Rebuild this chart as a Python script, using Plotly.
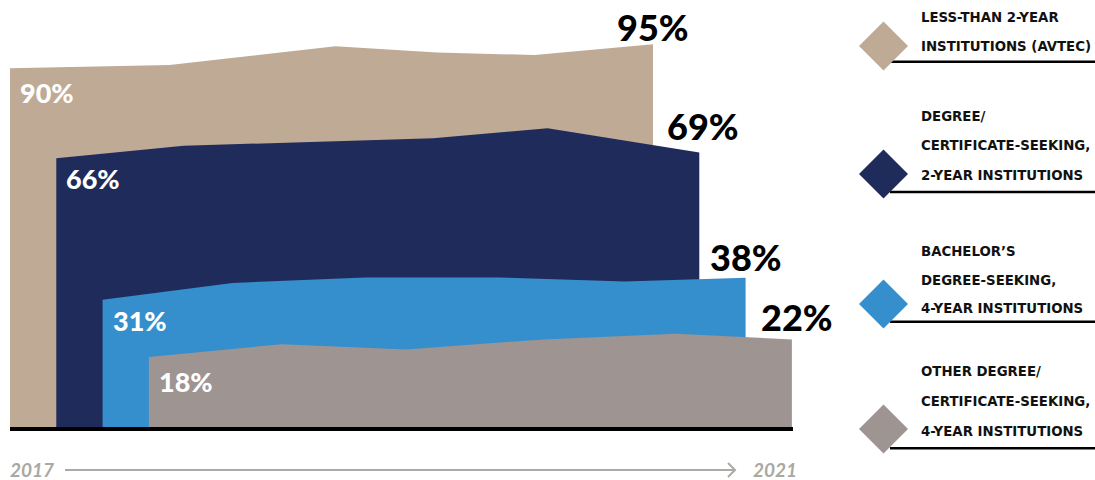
import plotly.graph_objects as go

# ---------------- data ----------------
series_names = [
    "Less-than 2-year institutions (AVTEC)",
    "Degree/certificate-seeking, 2-year institutions",
    "Bachelor's degree-seeking, 4-year institutions",
    "Other degree/certificate-seeking, 4-year institutions",
]
legend_lines = [
    ["LESS-THAN 2-YEAR", "INSTITUTIONS (AVTEC)"],
    ["DEGREE/", "CERTIFICATE-SEEKING,", "2-YEAR INSTITUTIONS"],
    ["BACHELOR\u2019S", "DEGREE-SEEKING,", "4-YEAR INSTITUTIONS"],
    ["OTHER DEGREE/", "CERTIFICATE-SEEKING,", "4-YEAR INSTITUTIONS"],
]
# period position (0 = 2017 ... 5 = 2021) and percentage
s1_x = [0, 1.24, 2.53, 3.32, 4.08, 5]
s1_y = [89.7, 90.5, 95.2, 93.6, 93.0, 95.7]
s2_x = [0, 0.99, 2.93, 3.82, 5]
s2_y = [67.2, 70.3, 72.2, 74.7, 68.6]
s3_x = [0, 1.01, 2.04, 3.08, 4.06, 5]
s3_y = [31.8, 36.0, 37.4, 37.4, 36.4, 37.3]
s4_x = [0, 1.03, 2.0, 3.07, 4.1, 5]
s4_y = [17.5, 20.7, 19.4, 21.9, 23.3, 21.9]
start_labels = ["90%", "66%", "31%", "18%"]
end_labels = ["95%", "69%", "38%", "22%"]
year_start = "2017"
year_end = "2021"

# ---------------- style ----------------
W, H = 1095, 480
colors = ["#BFAA96", "#1F2C5B", "#368FCD", "#9E9492"]
STAGGER = 0.36
xs = [s1_x, s2_x, s3_x, s4_x]
ys = [s1_y, s2_y, s3_y, s4_y]
NUM_FONT = "Lato"


def px(x):
    return x / W


def py(y):
    return 1 - y / H


fig = go.Figure()
for i in range(4):
    fig.add_trace(go.Scatter(
        x=[v + i * STAGGER for v in xs[i]], y=ys[i],
        mode="lines", line=dict(width=0, color=colors[i]),
        fill="tozeroy", fillcolor=colors[i], name=series_names[i],
        hoverinfo="skip", showlegend=False,
    ))

annotations = []
shapes = []
end_yshift = [17, 27, 21, 22]
end_xshift = [0, 4, 0, 5]
start_yshift = [-24, -20, -21, -24]
for i in range(4):
    annotations.append(dict(
        x=xs[i][0] + i * STAGGER, y=ys[i][0], xref="x", yref="y",
        text=start_labels[i], showarrow=False, xanchor="left", yanchor="middle",
        xshift=8, yshift=start_yshift[i],
        font=dict(family=NUM_FONT, size=27, color="white", weight=900),
    ))
    annotations.append(dict(
        x=xs[i][-1] + i * STAGGER, y=ys[i][-1], xref="x", yref="y",
        text=end_labels[i], showarrow=False, xanchor="center", yanchor="middle",
        xshift=end_xshift[i], yshift=end_yshift[i],
        font=dict(family=NUM_FONT, size=36, color="black", weight=900),
    ))

# baseline
shapes.append(dict(type="line", xref="paper", yref="paper",
                   x0=px(10), x1=px(793), y0=py(429), y1=py(429),
                   line=dict(color="black", width=4), layer="above"))
# time arrow
shapes.append(dict(type="line", xref="paper", yref="paper",
                   x0=px(65), x1=px(735), y0=py(470), y1=py(470),
                   line=dict(color="#ABABA6", width=2)))
shapes.append(dict(type="path", xref="paper", yref="paper",
                   path=f"M {px(728)},{py(463)} L {px(735)},{py(470)} L {px(728)},{py(477)}",
                   line=dict(color="#ABABA6", width=2)))
annotations.append(dict(x=px(8), y=py(469), xref="paper", yref="paper", text=year_start,
                        showarrow=False, xanchor="left", yanchor="middle",
                        font=dict(family="Lato", size=19, color="#A9A9A4", style="italic", weight=700)))
annotations.append(dict(x=px(751), y=py(469), xref="paper", yref="paper", text=year_end,
                        showarrow=False, xanchor="left", yanchor="middle",
                        font=dict(family="Lato", size=19, color="#A9A9A4", style="italic", weight=700)))

# legend
diamond_cy = [46, 174, 304, 429]
underline_y = [61.7, 192, 321.7, 448.3]
text_y = [[16.7, 45.8], [115.5, 145, 174.5], [250, 279.5, 307.5], [370.5, 400.5, 430.5]]
cx, r = 883.5, 24.5
for i in range(4):
    shapes.append(dict(type="line", xref="paper", yref="paper",
                       x0=px(890), x1=px(1095), y0=py(underline_y[i]), y1=py(underline_y[i]),
                       line=dict(color="black", width=2.5)))
    cy = diamond_cy[i]
    shapes.append(dict(type="path", xref="paper", yref="paper",
                       path=(f"M {px(cx - r)},{py(cy)} L {px(cx)},{py(cy - r)} "
                             f"L {px(cx + r)},{py(cy)} L {px(cx)},{py(cy + r)} Z"),
                       fillcolor=colors[i], line=dict(width=0)))
    for line_text, ty in zip(legend_lines[i], text_y[i]):
        annotations.append(dict(x=px(919), y=py(ty), xref="paper", yref="paper",
                                text=line_text, showarrow=False, xanchor="left", yanchor="middle",
                                font=dict(family="DejaVu Sans Condensed, DejaVu Sans, sans-serif",
                                          size=14.8, color="#111111", weight=700)))

fig.update_layout(
    width=W, height=H, margin=dict(l=0, r=0, t=0, b=0, pad=0),
    paper_bgcolor="white", plot_bgcolor="white",
    xaxis=dict(range=[-10 / 128.6, 1085 / 128.6], visible=False, fixedrange=True),
    yaxis=dict(range=[-13.25, 106.75], visible=False, fixedrange=True),
    annotations=annotations, shapes=shapes, showlegend=False,
)
fig.write_html("out.html", config={"displayModeBar": False},
               post_script="document.body.style.margin='0';document.body.style.overflow='hidden';")
